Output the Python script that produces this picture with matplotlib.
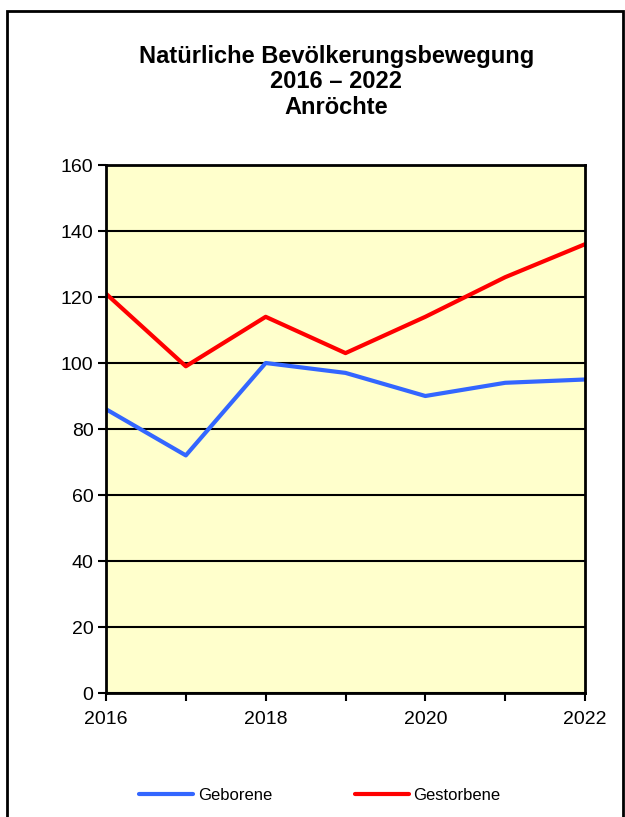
import matplotlib
matplotlib.use("Agg")
import matplotlib.pyplot as plt
from matplotlib.patches import Rectangle

plt.rcParams['font.family'] = ['Liberation Sans', 'DejaVu Sans']

years = [2016, 2017, 2018, 2019, 2020, 2021, 2022]
geborene = [86, 72, 100, 97, 90, 94, 95]
gestorbene = [121, 99, 114, 103, 114, 126, 136]
title_lines = ["Natürliche Bevölkerungsbewegung", "2016 – 2022", "Anröchte"]

W, H = 625, 817
fig = plt.figure(figsize=(W / 100, H / 100), dpi=100)

# outer frame (bottom edge runs past the image)
fig.patches.append(Rectangle((7 / W, -0.05), 616 / W, 1.05 - 11 / H,
                             transform=fig.transFigure, fill=False,
                             edgecolor='black', linewidth=2))

ax = fig.add_axes([106 / W, 1 - 693 / H, 479 / W, 528 / H])
ax.set_facecolor('#FFFFCC')

l1, = ax.plot(years, geborene, color='#3366FF', lw=3, label='Geborene',
              solid_capstyle='round', zorder=3)
l2, = ax.plot(years, gestorbene, color='#FF0000', lw=3, label='Gestorbene',
              solid_capstyle='round', zorder=3)

ax.set_xlim(2016, 2022)
ax.set_ylim(0, 160)
ax.set_yticks(range(0, 161, 20))
ax.set_xticks(years)
ax.set_xticklabels([str(y) if y % 2 == 0 else '' for y in years])
ax.grid(axis='y', color='black', lw=1.5, zorder=1)
ax.tick_params(direction='out', length=6, width=1.5, labelsize=14)
ax.tick_params(axis='y', pad=3)
ax.tick_params(axis='x', pad=7)
for s in ax.spines.values():
    s.set_linewidth(2)
    s.set_zorder(4)

for i, line in enumerate(title_lines):
    fig.text(0.538, 1 - (57 + 25 * i) / H, line, ha='center', va='center',
             fontsize=17, fontweight='bold')

fig.legend(handles=[l1, l2], loc='center', bbox_to_anchor=(0.512, 1 - 795 / H),
           ncol=2, frameon=False, fontsize=12, handlelength=3.2,
           handletextpad=0.3, columnspacing=5.0)

fig.savefig('out.png', dpi=100)
